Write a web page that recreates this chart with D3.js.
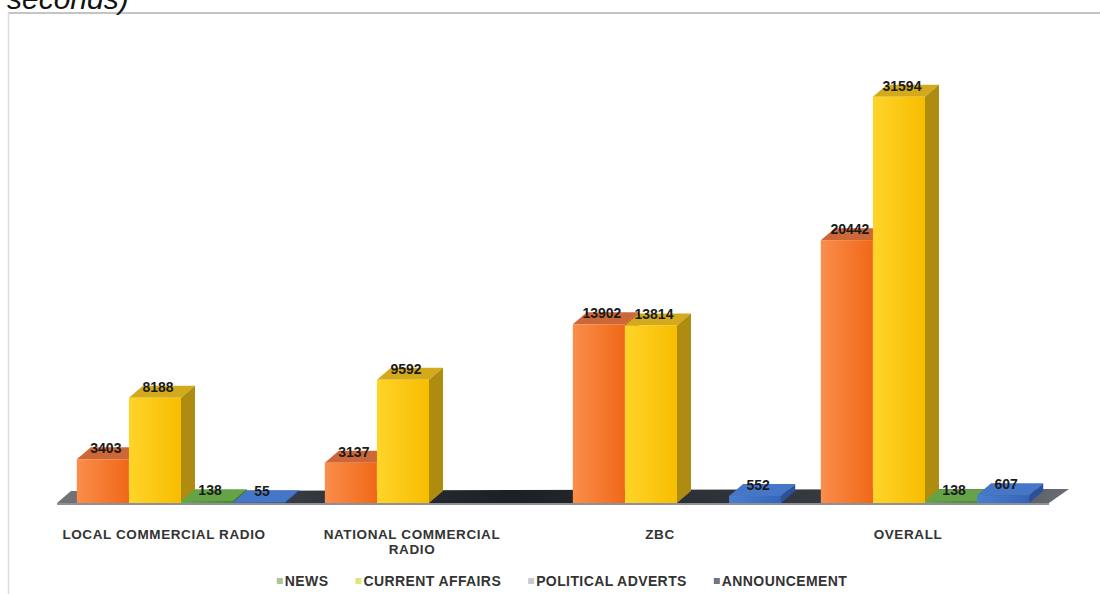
<!DOCTYPE html>
<html>
<head>
<meta charset="utf-8">
<script src="https://cdn.jsdelivr.net/npm/d3@7"></script>
<style>
  body { margin: 0; background: #fff; }
  svg { display: block; font-family: Arial, "Liberation Sans", sans-serif; }
</style>
</head>
<body>
<div class="chart"></div>
<script>
// data
const categories = ['LOCAL COMMERCIAL RADIO', 'NATIONAL COMMERCIAL RADIO', 'ZBC', 'OVERALL'];
const categoryLines = [['LOCAL COMMERCIAL RADIO'], ['NATIONAL COMMERCIAL', 'RADIO'], ['ZBC'], ['OVERALL']];
const seriesNames = ['NEWS', 'CURRENT AFFAIRS', 'POLITICAL ADVERTS', 'ANNOUNCEMENT'];
const news = [3403, 3137, 13902, 20442];
const currentAffairs = [8188, 9592, 13814, 31594];
const politicalAdverts = [138, 0, 0, 138];
const announcement = [55, 0, 552, 607];

const seriesValues = [news, currentAffairs, politicalAdverts, announcement];

// colours: front gradient (light, dark), top, side
const palette = [
    { a: '#fb8d4b', b: '#f06818', top: '#cc6838', side: '#b4561c' },
    { a: '#ffd42a', b: '#f7bd00', top: '#d3aa1c', side: '#ad8c10' },
    { a: '#6fae48', b: '#4f8c30', top: '#64a446', side: '#3f7526' },
    { a: '#4a7fd0', b: '#3464b8', top: '#4676c8', side: '#2c519a' }
];
const legendSwatch = ['#a9c795', '#dce67f', '#c8ccd1', '#6f7784'];

const W = 1100, H = 594;
const base = 503;
const depth = { x: 14, y: -12 };

const svg = d3.select('.chart')
    .append('svg')
    .attr('width', W)
    .attr('height', H);

const defs = svg.append('defs');

// chart frame
svg.append('line').attr('x1', 8).attr('x2', W).attr('y1', 13).attr('y2', 13)
    .attr('stroke', '#c4c4c4').attr('stroke-width', 2);
svg.append('line').attr('x1', 8.5).attr('x2', 8.5).attr('y1', 12).attr('y2', H)
    .attr('stroke', '#dcdcdc').attr('stroke-width', 1.5);

// title above the chart, cut off at the top as in the source
svg.append('text')
    .attr('x', 7).attr('y', 9)
    .attr('font-size', 30)
    .attr('font-style', 'italic')
    .attr('fill', '#111')
    .text('seconds)');

//scales
const x = d3.scaleBand()
    .domain(categories)
    .range([57, 1049])
    .paddingInner(0.16)
    .paddingOuter(0.08);

const xs = d3.scaleBand()
    .domain(seriesNames)
    .range([0, x.bandwidth()])
    .padding(0);

const y = d3.scaleLinear()
    .domain([0, 35000])
    .range([base, base - 450]);

// floor
const floorGrad = defs.append('linearGradient').attr('id', 'floor');
[[0, '#74777b'], [0.12, '#4a4f56'], [0.3, '#2b3036'], [0.45, '#1c2025'], [0.6, '#2a2f35'], [0.85, '#3c4148'], [1, '#6a6e74']]
    .forEach(([o, c]) => floorGrad.append('stop').attr('offset', o).attr('stop-color', c));

const fx0 = x.range()[0], fx1 = x.range()[1];
svg.append('path')
    .attr('d', `M${fx0},${base} L${fx1},${base} L${fx1 + depth.x + 6},${base + depth.y - 2} L${fx0 + depth.x},${base + depth.y} Z`)
    .attr('fill', 'url(#floor)');
svg.append('rect')
    .attr('x', fx0).attr('y', base).attr('width', fx1 - fx0).attr('height', 2)
    .attr('fill', '#8d9096');

// gradients for bar fronts
palette.forEach((p, i) => {
    const g = defs.append('linearGradient').attr('id', `front${i}`);
    g.append('stop').attr('offset', 0).attr('stop-color', p.a);
    g.append('stop').attr('offset', 1).attr('stop-color', p.b);
});

// flatten to bar records
const bars = [];
categories.forEach((c, ci) => {
    seriesNames.forEach((s, si) => {
        bars.push({ cat: c, series: s, si, value: seriesValues[si][ci] });
    });
});

const graph = svg.append('g');

const barG = graph.selectAll('g.bar')
    .data(bars.filter(d => d.value > 0))
    .enter()
    .append('g')
    .attr('class', 'bar');

const bx = d => x(d.cat) + xs(d.series);
const bw = xs.bandwidth();

// top face
barG.append('path')
    .attr('d', d => {
        const x0 = bx(d), yt = y(d.value);
        return `M${x0},${yt} L${x0 + bw},${yt} L${x0 + bw + depth.x},${yt + depth.y} L${x0 + depth.x},${yt + depth.y} Z`;
    })
    .attr('fill', d => palette[d.si].top);

// side face
barG.append('path')
    .attr('d', d => {
        const x0 = bx(d) + bw, yt = y(d.value);
        return `M${x0},${yt} L${x0 + depth.x},${yt + depth.y} L${x0 + depth.x},${base + depth.y} L${x0},${base} Z`;
    })
    .attr('fill', d => palette[d.si].side);

// front face
barG.append('rect')
    .attr('x', d => bx(d))
    .attr('y', d => y(d.value))
    .attr('width', bw)
    .attr('height', d => base - y(d.value))
    .attr('fill', d => `url(#front${d.si})`);

// value labels
graph.selectAll('text.val')
    .data(bars.filter(d => d.value > 0))
    .enter()
    .append('text')
    .attr('class', 'val')
    .attr('x', d => bx(d) + bw / 2 + 3)
    .attr('y', d => y(d.value) - 6)
    .attr('text-anchor', 'middle')
    .attr('font-size', 14)
    .attr('font-weight', 'bold')
    .attr('fill', '#1a1a1a')
    .text(d => d.value);

// category labels
const catLabel = svg.selectAll('text.cat')
    .data(categories)
    .enter()
    .append('text')
    .attr('class', 'cat')
    .attr('x', d => x(d) + x.bandwidth() / 2 - 17)
    .attr('y', 539)
    .attr('text-anchor', 'middle')
    .attr('font-size', 13.5)
    .attr('font-weight', 'bold')
    .attr('letter-spacing', 0.6)
    .attr('fill', '#333');

catLabel.selectAll('tspan')
    .data((d, i) => categoryLines[i])
    .enter()
    .append('tspan')
    .attr('x', function () { return d3.select(this.parentNode).attr('x'); })
    .attr('dy', (d, i) => i === 0 ? 0 : 15)
    .text(d => d);

// legend
const legendGroup = svg.append('g');
let lx = 0;
seriesNames.forEach((s, i) => {
    const item = legendGroup.append('g').attr('transform', `translate(${lx}, 0)`);
    item.append('rect')
        .attr('x', 0).attr('y', -8).attr('width', 6).attr('height', 6)
        .attr('fill', legendSwatch[i]);
    const t = item.append('text')
        .attr('x', 8).attr('y', 0)
        .attr('font-size', 14)
        .attr('font-weight', 'bold')
        .attr('letter-spacing', 0.4)
        .attr('fill', '#333')
        .text(s);
    lx += 8 + t.node().getComputedTextLength() + 27;
});
const legendWidth = lx - 27;
legendGroup.attr('transform', `translate(${562 - legendWidth / 2}, 586)`);
</script>
</body>
</html>
